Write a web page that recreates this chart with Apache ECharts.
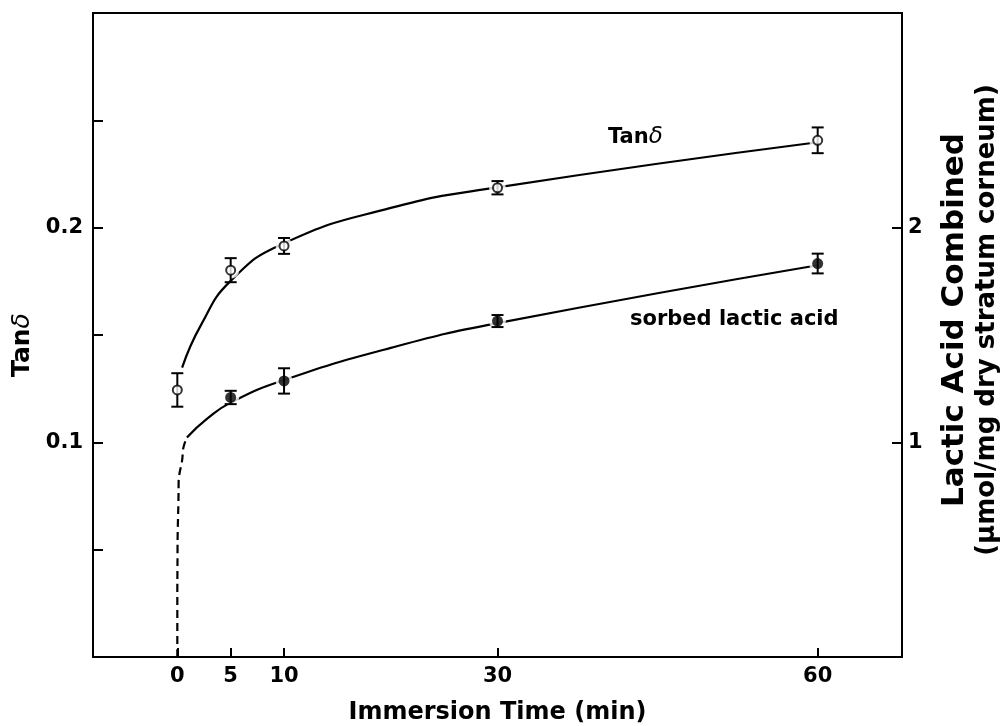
<!DOCTYPE html>
<html><head><meta charset="utf-8">
<script src="https://cdn.jsdelivr.net/npm/echarts@6/dist/echarts.min.js"></script>
<style>html,body{margin:0;padding:0;background:#fff}#c{width:1005px;height:726px}</style>
</head><body><div id="c"></div>
<script>
// ---- data ----
const xTickValues = [0, 5, 10, 30, 60];
const leftTickLabels = ['0.1', '0.2'];
const rightTickLabels = ['1', '2'];

const tanTimes = [0, 5, 10, 30, 60];
const tanDelta = [0.1244, 0.1802, 0.1915, 0.2186, 0.2407];
const tanDeltaErr = [0.0078, 0.0056, 0.0037, 0.0031, 0.0060];

const lacticTimes = [5, 10, 30, 60];
const lactic = [1.209, 1.286, 1.565, 1.833];
const lacticErr = [0.031, 0.059, 0.028, 0.046];

// fitted curves
const tanCurveX = [0.45, 2.2, 5, 10, 20, 30, 60];
const tanCurveY = [0.1348, 0.1545, 0.1752, 0.1927, 0.2092, 0.2188, 0.2398];
const lacticCurveX = [0.9, 2.8, 5, 10, 20, 30, 60];
const lacticCurveY = [1.023, 1.11, 1.185, 1.290, 1.440, 1.555, 1.825];
const lacticDashX = [0, 0, 0.02, 0.12, 0.5, 0.9];
const lacticDashY = [0, 0.3, 0.5, 0.81, 0.95, 1.023];

const zip = (a, b) => a.map((v, i) => [v, b[i]]);
const zip3 = (a, b, c) => a.map((v, i) => [v, b[i], c[i]]);

const FONT = 'DejaVu Sans';
const BLACK = '#000';

function errRender(params, api) {
  const x = api.value(0), y = api.value(1), e = api.value(2);
  const top = api.coord([x, y + e]), bot = api.coord([x, y - e]);
  const cap = 6;
  const st = { stroke: BLACK, lineWidth: 2 };
  return { type: 'group', children: [
    { type: 'line', shape: { x1: top[0], y1: top[1], x2: bot[0], y2: bot[1] }, style: st },
    { type: 'line', shape: { x1: top[0] - cap, y1: top[1], x2: top[0] + cap, y2: top[1] }, style: st },
    { type: 'line', shape: { x1: bot[0] - cap, y1: bot[1], x2: bot[0] + cap, y2: bot[1] }, style: st }
  ]};
}

const chart = echarts.init(document.getElementById('c'), null, { renderer: 'canvas' });
chart.setOption({
  animation: false,
  backgroundColor: '#fff',
  grid: { left: 93, right: 103, top: 13, bottom: 69, outerBoundsMode: 'none', containLabel: false,
          show: true, borderColor: BLACK, borderWidth: 2, backgroundColor: 'transparent' },
  xAxis: {
    type: 'value', min: -7.9, max: 67.9,
    axisLine: { show: true, onZero: false, lineStyle: { color: BLACK, width: 2 } },
    axisTick: { show: true, inside: true, length: 9, customValues: xTickValues, lineStyle: { color: BLACK, width: 2 } },
    axisLabel: { customValues: xTickValues, color: BLACK, fontFamily: FONT, fontWeight: 'bold', fontSize: 21, margin: 9 },
    splitLine: { show: false },
    name: 'Immersion Time (min)', nameLocation: 'middle', nameGap: 44,
    nameTextStyle: { color: BLACK, fontFamily: FONT, fontWeight: 'bold', fontSize: 24 }
  },
  yAxis: [{
    type: 'value', min: 0, max: 0.3, interval: 0.05, position: 'left',
    axisLine: { show: true, onZero: false, lineStyle: { color: BLACK, width: 2 } },
    axisTick: { show: true, inside: true, length: 10, lineStyle: { color: BLACK, width: 2 } },
    axisLabel: {
      color: BLACK, fontFamily: FONT, fontWeight: 'bold', fontSize: 21, margin: 10,
      formatter: v => { const s = (Math.round(v * 100) / 100).toString(); return leftTickLabels.includes(s) ? s : ''; }
    },
    splitLine: { show: false },
    name: '{n|Tan}{d|δ}', nameLocation: 'middle', nameGap: 56,
    nameTextStyle: { padding: [0, 20, 0, 0], rich: {
      n: { color: BLACK, fontFamily: FONT, fontWeight: 'bold', fontSize: 25 },
      d: { color: BLACK, fontFamily: FONT, fontStyle: 'italic', fontWeight: 'normal', fontSize: 25 }
    } }
  }, {
    type: 'value', min: 0, max: 3, interval: 1, position: 'right',
    axisLine: { show: true, onZero: false, lineStyle: { color: BLACK, width: 2 } },
    axisTick: { show: true, inside: true, length: 10, lineStyle: { color: BLACK, width: 2 } },
    axisLabel: {
      color: BLACK, fontFamily: FONT, fontWeight: 'bold', fontSize: 21, margin: 6,
      formatter: v => { const s = String(Math.round(v)); return rightTickLabels.includes(s) ? s : ''; }
    },
    splitLine: { show: false },
    name: '{a|Lactic Acid Combined}\n{b|(μmol/mg dry stratum corneum)}', nameLocation: 'middle', nameGap: 36,
    nameTextStyle: { padding: [0, 0, 0, 30], rich: {
      a: { color: BLACK, fontFamily: FONT, fontWeight: 'bold', fontSize: 31, lineHeight: 34 },
      b: { color: BLACK, fontFamily: FONT, fontWeight: 'bold', fontSize: 26, lineHeight: 30 }
    } }
  }],
  series: [
    { name: 'Tanδ curve', type: 'line', yAxisIndex: 0, data: zip(tanCurveX, tanCurveY), smooth: 0.5,
      showSymbol: false, lineStyle: { color: BLACK, width: 2.2 }, z: 2, silent: true },
    { name: 'lactic curve', type: 'line', yAxisIndex: 1, data: zip(lacticCurveX, lacticCurveY), smooth: 0.5,
      showSymbol: false, lineStyle: { color: BLACK, width: 2.2 }, z: 2, silent: true },
    { name: 'lactic extrapolation', type: 'line', yAxisIndex: 1, data: zip(lacticDashX, lacticDashY), smooth: 0.4, smoothMonotone: 'y',
      showSymbol: false, lineStyle: { color: BLACK, width: 2.2, type: [8, 5] }, z: 2, silent: true },
    { name: 'halo tan', type: 'scatter', yAxisIndex: 0, data: zip(tanTimes, tanDelta), symbolSize: 17,
      itemStyle: { color: '#fff', borderWidth: 0 }, z: 3, silent: true },
    { name: 'halo lactic', type: 'scatter', yAxisIndex: 1, data: zip(lacticTimes, lactic), symbolSize: 17,
      itemStyle: { color: '#fff', borderWidth: 0 }, z: 3, silent: true },
    { name: 'tan err', type: 'custom', yAxisIndex: 0, data: zip3(tanTimes, tanDelta, tanDeltaErr), renderItem: errRender,
      encode: { x: 0, y: 1 }, z: 4, silent: true },
    { name: 'lactic err', type: 'custom', yAxisIndex: 1, data: zip3(lacticTimes, lactic, lacticErr), renderItem: errRender,
      encode: { x: 0, y: 1 }, z: 4, silent: true },
    { name: 'Tanδ', type: 'scatter', yAxisIndex: 0, data: zip(tanTimes, tanDelta), symbol: 'circle', symbolSize: 9,
      itemStyle: { color: '#fff', borderColor: BLACK, borderWidth: 2 }, z: 5 },
    { name: 'sorbed lactic acid', type: 'scatter', yAxisIndex: 1, data: zip(lacticTimes, lactic), symbol: 'circle', symbolSize: 11,
      itemStyle: { color: BLACK }, z: 5 }
  ],
  graphic: [
    { type: 'text', left: 608, top: 126, z: 10, style: { text: '{n|Tan}{d|δ}', rich: {
      n: { fill: BLACK, fontFamily: FONT, fontWeight: 'bold', fontSize: 21 },
      d: { fill: BLACK, fontFamily: FONT, fontStyle: 'italic', fontSize: 23 } } } },
    { type: 'text', left: 630, top: 309, z: 10, style: { text: 'sorbed lactic acid', fill: BLACK, fontFamily: FONT, fontWeight: 'bold', fontSize: 21 } }
  ]
});
</script></body></html>
